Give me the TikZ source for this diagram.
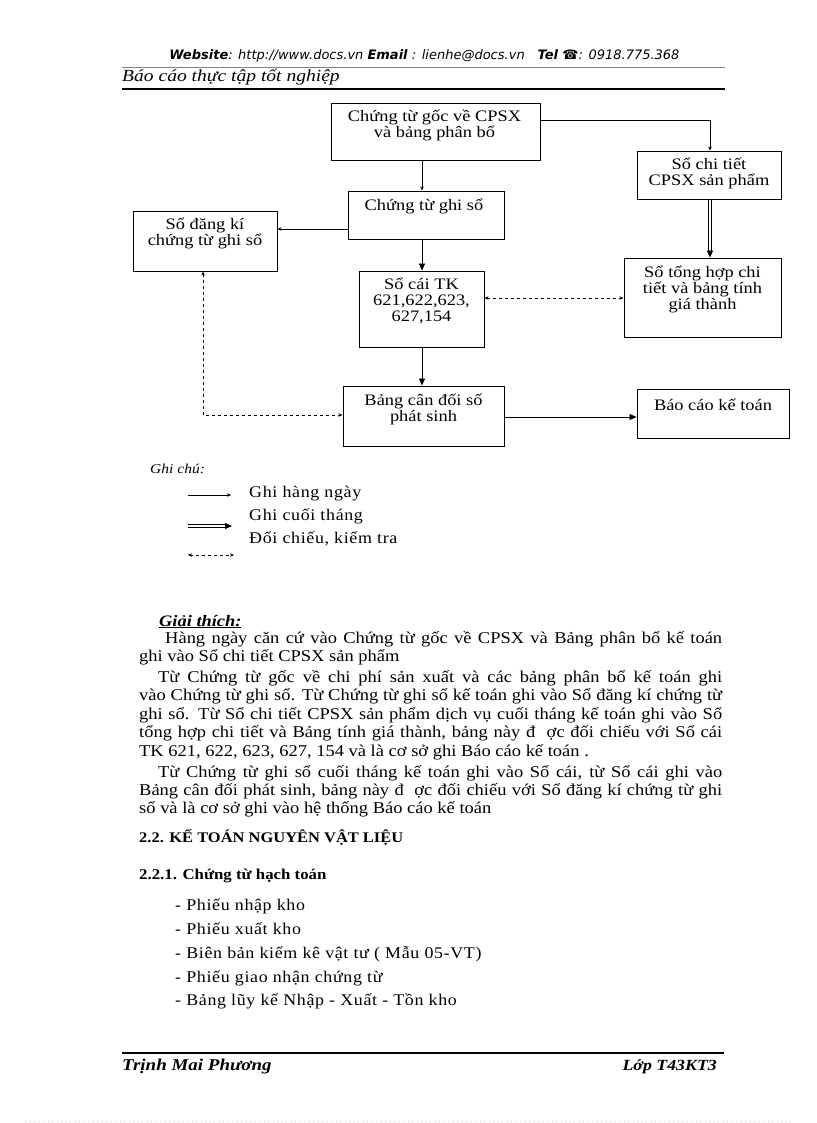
\documentclass[tikz,border=0pt]{standalone}
\usepackage{fontspec}
\setmainfont{Liberation Serif}
\newfontfamily\dgfont[FakeStretch=1.15]{Liberation Serif}
\newfontfamily\bdfont[FakeStretch=1.12]{Liberation Serif}
\newfontfamily\lsfont[FakeStretch=1.1,LetterSpace=4]{Liberation Serif}
\newfontfamily\hdfont{DejaVu Sans}
\usetikzlibrary{arrows.meta,calc}
\tikzset{
  box/.style={draw, line width=0.9pt, inner sep=0pt},
  btxt/.style={align=center, inner sep=0pt, font=\dgfont\fontsize{16}{16}\selectfont},
  thinarr/.style={line width=0.6pt, -{Stealth[length=4pt,width=3.5pt]}},
  fatarr/.style={line width=0.8pt, -{Triangle[length=7pt,width=6pt]}},
  dsharr/.style={line width=0.7pt, dash pattern=on 3pt off 3pt, {Stealth[length=4pt,width=3.5pt]}-{Stealth[length=4pt,width=3.5pt]}},
  bline/.style={anchor=base west, inner sep=0pt, font=\bdfont\fontsize{16.5}{18}\selectfont},
  lline/.style={anchor=base west, inner sep=0pt, font=\lsfont\fontsize{16.3}{18}\selectfont},
}
\begin{document}
\begin{tikzpicture}[x=1pt,y=-1pt]
\useasboundingbox (0,0) rectangle (816,1123);
\fill[white] (0,0) rectangle (816,1123);
% header
\node[inner sep=0pt] (web) at (424.5,56) {\hdfont\fontsize{13}{14}\selectfont\textbf{\textit{Website}}\textit{: http://www.docs.vn} \textbf{\textit{Email}} \textit{: lienhe@docs.vn}\quad\textbf{\textit{Tel}} ☎\textit{: 0918.775.368}};
\draw[gray, line width=0.6pt] (122,67) -- (725,67);
\node[anchor=base west, inner sep=0pt] (rep) at (122,82) {\dgfont\fontsize{17}{18}\selectfont\itshape Báo cáo thực tập tốt nghiệp};
\draw[line width=1.8pt] (122,89) -- (725,89);
% boxes
\node[box, minimum width=209pt, minimum height=57pt] (A) at (435.5,131.5) {};
\node[box, minimum width=144pt, minimum height=48pt] (D) at (709,175) {};
\node[box, minimum width=156pt, minimum height=48pt] (B) at (426,215) {};
\node[box, minimum width=144pt, minimum height=60pt] (C) at (205,241) {};
\node[box, minimum width=125pt, minimum height=76pt] (E) at (421.5,309) {};
\node[box, minimum width=157pt, minimum height=79pt] (F) at (702.5,297.5) {};
\node[box, minimum width=161pt, minimum height=60pt] (G) at (423.5,416) {};
\node[box, minimum width=152pt, minimum height=49pt] (H) at (713,413.5) {};
\node[btxt] (At) at (434.5,125) {Chứng từ gốc về CPSX\\và bảng phân bổ};
\node[btxt] (Dt) at (709,173) {Sổ chi tiết\\CPSX sản phẩm};
\node[btxt] (Bt) at (424,206) {Chứng từ ghi sổ};
\node[btxt] (Ct) at (205,233) {Sổ đăng kí\\chứng từ ghi sổ};
\node[btxt] (Et) at (421.5,301) {Sổ cái TK\\621,622,623,\\627,154};
\node[btxt] (Ft) at (702.5,289) {Sổ tổng hợp chi\\tiết và bảng tính\\giá thành};
\node[btxt] (Gt) at (423.5,409) {Bảng cân đối số\\phát sinh};
\node[btxt] (Ht) at (713,405) {Báo cáo kế toán};
% helper coordinates
\coordinate (xm) at (422,0);
\coordinate (xd) at (710,0);
\coordinate (xc) at (203,0);
\coordinate (y1) at (0,120);
\coordinate (y2) at (0,229);
\coordinate (y3) at (0,298);
\coordinate (y4) at (0,415);
\coordinate (y5) at (0,417);
% connectors
\draw[thinarr] (A.south -| xm) -- (B.north -| xm);
\draw[thinarr] (B.west |- y2) -- (C.east |- y2);
\draw[thinarr] (A.east |- y1) -| (D.north -| xd);
\draw[fatarr] (B.south -| xm) -- (E.north -| xm);
\draw[fatarr] (E.south -| xm) -- (G.north -| xm);
\draw[fatarr] (G.east |- y5) -- (H.west |- y5);
\draw[line width=0.7pt] ([xshift=-1.3pt]D.south -| xd) -- ([xshift=-1.3pt,yshift=6pt]F.north -| xd);
\draw[line width=0.7pt] ([xshift=1.3pt]D.south -| xd) -- ([xshift=1.3pt,yshift=6pt]F.north -| xd);
\draw[fatarr] ([yshift=7pt]F.north -| xd) -- (F.north -| xd);
\draw[dsharr] (E.east |- y3) -- (F.west |- y3);
\draw[dsharr] (C.south -| xc) |- (G.west |- y4);
% legend
\node[anchor=base west, inner sep=0pt] (gc) at (150,473) {\dgfont\fontsize{13.5}{15}\selectfont\itshape Ghi chú:};
\coordinate (l1a) at (188,495); \coordinate (l1b) at (231,495);
\coordinate (l2a) at (188,526); \coordinate (l2b) at (232,526);
\coordinate (l3a) at (188,555); \coordinate (l3b) at (234,555);
\draw[thinarr] (l1a) -- (l1b);
\draw[line width=0.7pt] ([yshift=1.3pt]l2a) -- ([yshift=1.3pt,xshift=-6pt]l2b);
\draw[line width=0.7pt] ([yshift=-1.3pt]l2a) -- ([yshift=-1.3pt,xshift=-6pt]l2b);
\draw[fatarr] ([xshift=-7pt]l2b) -- (l2b);
\draw[dsharr] (l3a) -- (l3b);
\node[lline] (lg1) at (249,497) {Ghi hàng ngày};
\node[lline] (lg2) at (249,520) {Ghi cuối tháng};
\node[lline] (lg3) at (249,543) {Đối chiếu, kiểm tra};
% explanation
\node[anchor=base west, inner sep=0pt] (gt) at (159,626) {\dgfont\fontsize{16}{16}\selectfont\bfseries\itshape\underline{Giải thích:}};
\node[bline] (p1) at (165,643) {\makebox[557pt][s]{Hàng ngày căn cứ vào Chứng từ gốc về CPSX và Bảng phân bổ kế toán}};
\node[bline] (p2) at (139,661) {ghi vào Sổ chi tiết CPSX sản phẩm};
\node[bline] (p3) at (158,682) {\makebox[564pt][s]{Từ Chứng từ gốc về chi phí sản xuất và các bảng phân bổ kế toán ghi}};
\node[bline] (p4) at (139,700) {\makebox[583pt][s]{vào Chứng từ ghi sổ. Từ Chứng từ ghi sổ kế toán ghi vào Sổ đăng kí chứng từ}};
\node[bline] (p5) at (139,719) {\makebox[583pt][s]{ghi sổ. Từ Sổ chi tiết CPSX sản phẩm dịch vụ cuối tháng kế toán ghi vào Sổ}};
\node[bline] (p6) at (139,737) {\makebox[583pt][s]{tổng hợp chi tiết và Bảng tính giá thành, bảng này đ\ \ ợc đối chiếu với Sổ cái}};
\node[bline] (p7) at (139,756) {TK 621, 622, 623, 627, 154 và là cơ sở ghi Báo cáo kế toán .};
\node[bline] (p8) at (158,777) {\makebox[564pt][s]{Từ Chứng từ ghi sổ cuối tháng kế toán ghi vào Sổ cái, từ Sổ cái ghi vào}};
\node[bline] (p9) at (139,795) {\makebox[583pt][s]{Bảng cân đối phát sinh, bảng này đ\ \ ợc đối chiếu với Sổ đăng kí chứng từ ghi}};
\node[bline] (p10) at (139,813) {sổ và là cơ sở ghi vào hệ thống Báo cáo kế toán};
% section headings
\node[anchor=base west, inner sep=0pt] (s1) at (139,842) {\bdfont\fontsize{14.7}{16}\selectfont\bfseries 2.2. KẾ TOÁN NGUYÊN VẬT LIỆU};
\node[anchor=base west, inner sep=0pt] (s2) at (139,879) {\bdfont\fontsize{15}{17}\selectfont\bfseries 2.2.1. Chứng từ hạch toán};
\node[lline] (i1) at (175,910) {- Phiếu nhập kho};
\node[lline] (i2) at (175,934) {- Phiếu xuất kho};
\node[lline] (i3) at (175,958) {- Biên bản kiểm kê vật tư ( Mẫu 05-VT)};
\node[lline] (i4) at (175,982) {- Phiếu giao nhận chứng từ};
\node[lline] (i5) at (175,1005) {- Bảng lũy kế Nhập - Xuất - Tồn kho};
% footer
\draw[line width=1.8pt] (122,1053) -- (724,1053);
\node[anchor=base west, inner sep=0pt] (fn) at (122,1070) {\dgfont\fontsize{16.5}{17}\selectfont\bfseries\itshape Trịnh Mai Phương};
\node[anchor=base east, inner sep=0pt] (fc) at (717,1070) {\dgfont\fontsize{15.5}{17}\selectfont\bfseries\itshape Lớp T43KT3};
\draw[gray!50, line width=0.4pt, dash pattern=on 0.5pt off 4pt] (25,1121) -- (793,1121);
\end{tikzpicture}
\end{document}
